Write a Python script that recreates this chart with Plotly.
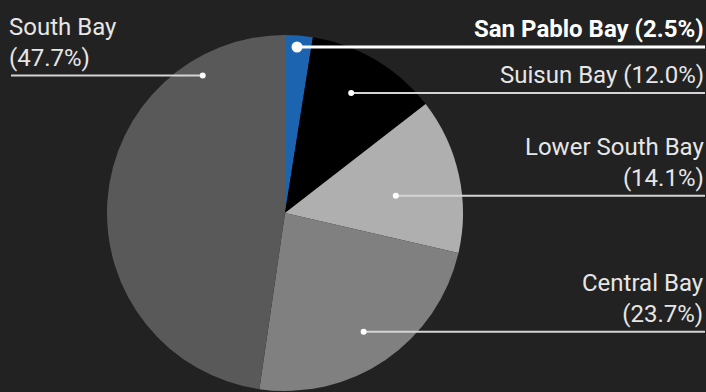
import math
import plotly.graph_objects as go

# Share of the bay area by sub-basin
regions = ["San Pablo Bay", "Suisun Bay", "Lower South Bay", "Central Bay", "South Bay"]
shares = [2.5, 12.0, 14.1, 23.7, 47.7]
colors = ["#1c63b0", "#000000", "#afafaf", "#808080", "#595959"]
label_text = [
    "<b>San Pablo Bay (2.5%)</b>",
    "Suisun Bay (12.0%)",
    "Lower South Bay<br>(14.1%)",
    "Central Bay<br>(23.7%)",
    "South Bay<br>(47.7%)",
]

W, H = 706, 392
BG = "#222222"
FONT = "Roboto"

# Pie geometry in pixels
cx, cy, R = 285, 213, 178

# Leader anchor: position within slice (0..1 of its angular span) and radius fraction
anchor_pos = [0.46, 0.46, 0.57, 0.51, 0.82]
anchor_rad = [0.935, 0.77, 0.63, 0.80, 0.90]
label_side = ["right", "right", "right", "right", "left"]

fig = go.Figure(
    go.Pie(
        labels=regions,
        values=shares,
        sort=False,
        direction="clockwise",
        rotation=0,
        marker=dict(colors=colors, line=dict(width=0)),
        textinfo="none",
        hoverinfo="label+percent",
        showlegend=False,
        domain=dict(x=[(cx - R) / W, (cx + R) / W], y=[(H - cy - R) / H, (H - cy + R) / H]),
    )
)


def px(x):
    return x / W


def py(y):
    return 1 - y / H


shapes = []
annotations = []
total = sum(shares)
start = 0.0
for i, v in enumerate(shares):
    a0 = start / total * 360
    a1 = (start + v) / total * 360
    start += v
    theta = math.radians(a0 + (a1 - a0) * anchor_pos[i])
    dx = cx + R * anchor_rad[i] * math.sin(theta)
    dy = cy - R * anchor_rad[i] * math.cos(theta)
    bold = i == 0
    lw = 3 if bold else 2
    dot_r = 5.5 if bold else 3
    line_col = "#ffffff" if bold else "#d4d4d4"
    if label_side[i] == "right":
        x_end = W - 1
        xanchor = "right"
    else:
        x_end = 11
        xanchor = "left"
    shapes.append(dict(type="line", xref="paper", yref="paper",
                       x0=px(dx), x1=px(x_end), y0=py(dy), y1=py(dy),
                       line=dict(color=line_col, width=lw)))
    shapes.append(dict(type="circle", xref="paper", yref="paper",
                       x0=px(dx - dot_r), x1=px(dx + dot_r),
                       y0=py(dy - dot_r), y1=py(dy + dot_r),
                       fillcolor="#ffffff", line=dict(width=0)))
    annotations.append(dict(
        xref="paper", yref="paper",
        x=px(x_end + 1 if label_side[i] == "right" else 7), y=py(dy - 2),
        xanchor=xanchor, yanchor="bottom", align=xanchor,
        text=label_text[i], showarrow=False,
        font=dict(family=FONT, size=24,
                  color="#ffffff" if bold else "#e6e6e6"),
    ))

fig.update_layout(
    width=W, height=H,
    margin=dict(l=0, r=0, t=0, b=0),
    paper_bgcolor=BG, plot_bgcolor=BG,
    shapes=shapes, annotations=annotations,
)

fig.write_html("out.html")
